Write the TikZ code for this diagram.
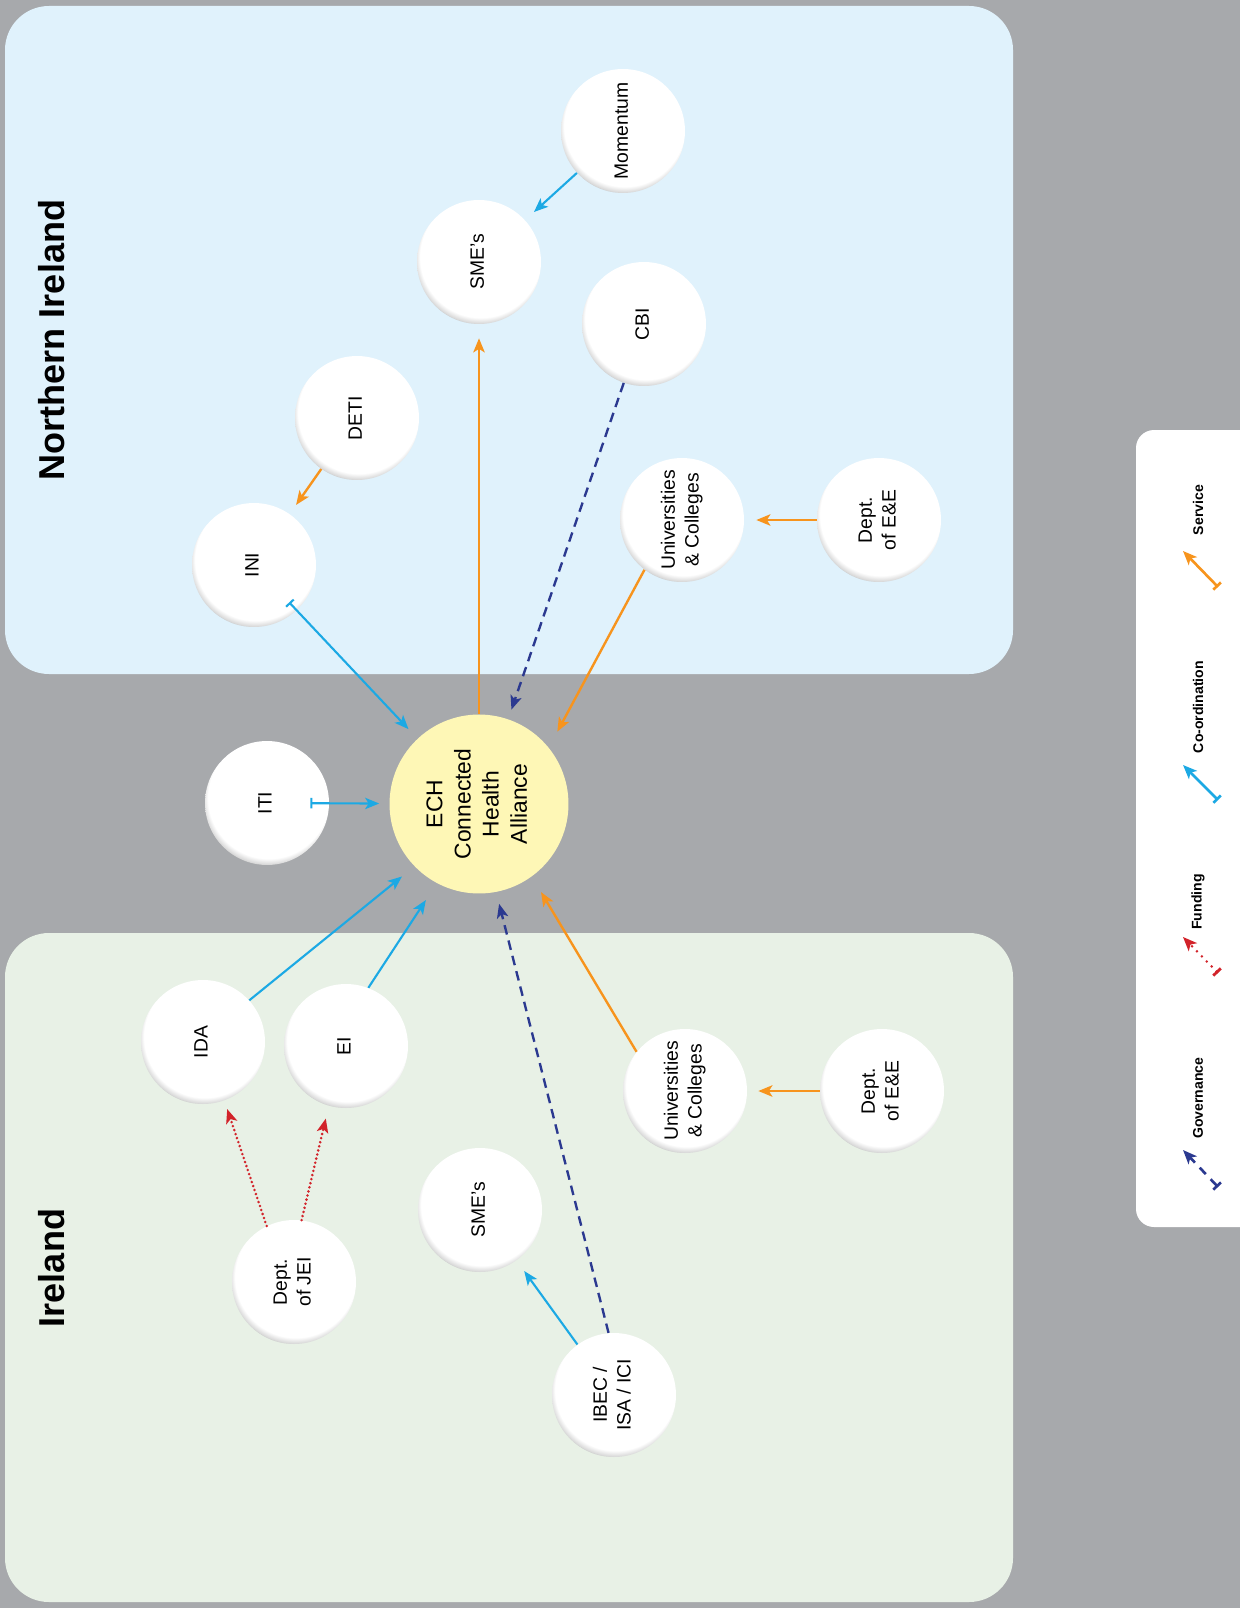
\documentclass[tikz,border=0pt]{standalone}
\usepackage{fontspec}
\setmainfont{Liberation Sans}
\usetikzlibrary{arrows.meta,calc}
\definecolor{bggrey}{HTML}{A7A9AC}
\definecolor{nipanel}{HTML}{E0F2FC}
\definecolor{iepanel}{HTML}{E8F1E6}
\definecolor{echyellow}{HTML}{FEF7B6}
\definecolor{svcorange}{HTML}{F7941D}
\definecolor{coocyan}{HTML}{1CA9E4}
\definecolor{govnavy}{HTML}{2B3990}
\definecolor{fundred}{HTML}{D2232A}
\pgfdeclareradialshading{ballshade}{\pgfpoint{1.2bp}{4bp}}{color(0bp)=(white); color(24.4bp)=(white); color(26.6bp)=(white!85!black); color(28.3bp)=(white!52!black); color(50bp)=(white!52!black)}
\newcommand{\vt}[1]{\rotatebox{90}{\begin{tabular}{@{}c@{}}#1\end{tabular}}}
\tikzset{
  orgnode/.style={circle, minimum size=2.48cm, inner sep=0pt, shading=ballshade, font=\fontsize{11}{13.5}\selectfont},
  hub/.style={circle, minimum size=3.58cm, inner sep=0pt, fill=echyellow, font=\fontsize{13}{16}\selectfont},
  tip/.style={-{Stealth[length=8pt,width=6.5pt,inset=2pt]}},
  bartip/.style={{Bar[width=6pt]}-{Stealth[length=8pt,width=6.5pt,inset=2pt]}},
  svc/.style={draw=svcorange, line width=1.35pt, tip},
  coo/.style={draw=coocyan, line width=1.2pt, tip},
  coobar/.style={draw=coocyan, line width=1.2pt, bartip},
  gov/.style={draw=govnavy, line width=1.35pt, dash pattern=on 5.5pt off 3.5pt, tip},
  fund/.style={draw=fundred, line width=1.6pt, line cap=round, dash pattern=on 0pt off 2.4pt, tip},
  legline/.style={line width=1.5pt, bartip},
  title/.style={font=\fontsize{20.5}{24}\selectfont\bfseries, inner sep=0pt},
  legtxt/.style={font=\fontsize{8}{10}\selectfont\bfseries, inner sep=0pt},
}
\begin{document}
\begin{tikzpicture}[x=0.02cm, y=-0.02cm]
\useasboundingbox (0,0) rectangle (1240,1608);
\fill[bggrey] (0,0) rectangle (1240,1608);
% panels
\fill[nipanel, rounded corners=0.88cm] (5,6) rectangle (1013,674);
\fill[iepanel, rounded corners=0.88cm] (5,933) rectangle (1013,1602);
\fill[white, rounded corners=0.36cm] (1136,430) rectangle (1290,1227);
% titles
\node[title] (niT) at (52,340) {\rotatebox{90}{Northern Ireland}};
\node[title] (ieT) at (52,1268) {\rotatebox{90}{Ireland}};
% nodes
\node[orgnode] (mom) at (623,131) {\vt{Momentum}};
\node[orgnode] (smeni) at (479,262) {\vt{SME's}};
\node[orgnode] (cbi) at (644,324) {\vt{CBI}};
\node[orgnode] (deti) at (357,418) {\vt{DETI}};
\node[orgnode] (ini) at (254,565) {\vt{INI}};
\node[orgnode] (univni) at (682,520) {\vt{Universities\\ \& Colleges}};
\node[orgnode] (deeni) at (879,520) {\vt{Dept.\\ of E\&E}};
\node[orgnode] (iti) at (267,803) {\vt{ITI}};
\node[hub] (ech) at (479,804) {\vt{ECH\\ Connected\\ Health\\ Alliance}};
\node[orgnode] (ida) at (203,1042) {\vt{IDA}};
\node[orgnode] (ei) at (346,1046) {\vt{EI}};
\node[orgnode] (univie) at (685,1091) {\vt{Universities\\ \& Colleges}};
\node[orgnode] (deeie) at (882,1091) {\vt{Dept.\\ of E\&E}};
\node[orgnode] (smeie) at (480,1210) {\vt{SME's}};
\node[orgnode] (jei) at (294,1282) {\vt{Dept.\\ of JEI}};
\node[orgnode] (ibec) at (614,1395) {\vt{IBEC /\\ ISA / ICI}};
% connectors
\draw[coo, shorten >=0.24cm] (mom) -- (smeni);
\draw[svc, shorten >=0.22cm] (deti) -- (ini);
\draw[coobar, shorten <=-0.22cm, shorten >=0.26cm] (ini) -- (ech);
\draw[coobar, shorten <=-0.38cm, shorten >=0.2cm] (iti) -- (ech);
\draw[svc, shorten >=0.28cm] (ech) -- (smeni);
\draw[gov, shorten >=0.2cm] (cbi) -- (ech);
\draw[svc, shorten >=0.36cm] (univni.233) -- (ech.39);
\draw[svc, shorten >=0.24cm] (deeni) -- (univni);
\draw[svc, shorten >=0.36cm] (univie.141) -- (ech.-54);
\draw[svc, shorten >=0.22cm] (deeie) -- (univie);
\draw[coo, shorten >=0.32cm] (ida.42) -- (ech.-136);
\draw[coo, shorten >=0.4cm] (ei.69) -- (ech.-118);
\draw[coo, shorten >=0.26cm] (ibec) -- (smeie);
\draw[gov, shorten >=0.24cm] (ibec.95) -- (ech.-79);
\draw[fund, shorten >=0.18cm] (jei.116) -- (ida.-70);
\draw[fund, shorten >=0.26cm] (jei.83) -- (ei.-106);
% legend
\node[legtxt] (lsvc) at (1198,510) {\rotatebox{90}{Service}};
\node[legtxt] (lcoo) at (1198,707) {\rotatebox{90}{Co-ordination}};
\node[legtxt] (lfund) at (1198,902) {\rotatebox{90}{Funding}};
\node[legtxt] (lgov) at (1198,1098) {\rotatebox{90}{Governance}};
\coordinate (svcT) at (1218,587); \coordinate (svcH) at (1183,551);
\coordinate (cooT) at (1218,800); \coordinate (cooH) at (1183,765);
\coordinate (fundT) at (1218,973); \coordinate (fundH) at (1183,937);
\coordinate (govT) at (1218,1187); \coordinate (govH) at (1183,1150);
\draw[svc, legline] (svcT) -- (svcH);
\draw[coo, legline] (cooT) -- (cooH);
\draw[fund, legline, line width=1.6pt, dash pattern=on 0pt off 4pt] (fundT) -- (fundH);
\draw[gov, legline, dash pattern=on 5pt off 4pt] (govT) -- (govH);
\end{tikzpicture}
\end{document}
